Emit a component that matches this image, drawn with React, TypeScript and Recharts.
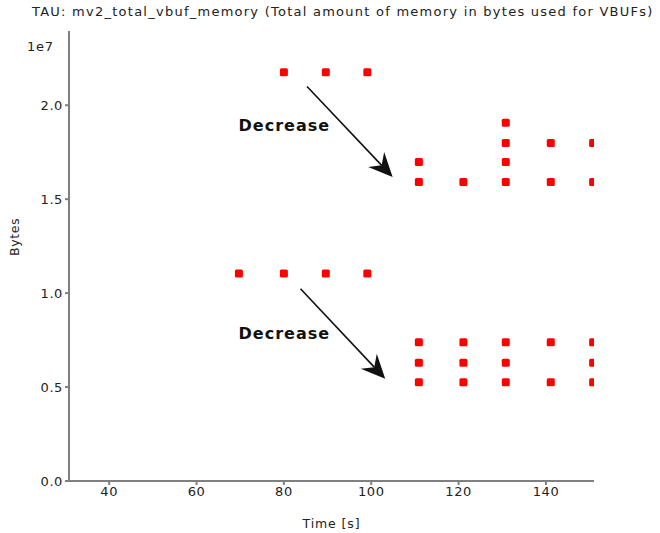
import React from 'react';
import {
  ScatterChart,
  Scatter,
  XAxis,
  YAxis,
  ReferenceLine,
  ReferenceDot,
} from 'recharts';

// Sample times [s] and memory readings [bytes]
const upperBefore = [
  [80, 21.75e6],
  [89.6, 21.75e6],
  [99.1, 21.75e6],
];
const lowerBefore = [
  [69.7, 11.05e6],
  [80, 11.05e6],
  [89.6, 11.05e6],
  [99.1, 11.05e6],
];
const upperAfter = [
  [110.9, 16.98e6],
  [110.9, 15.91e6],
  [121.1, 15.91e6],
  [130.8, 19.07e6],
  [130.8, 17.99e6],
  [130.8, 16.98e6],
  [130.8, 15.91e6],
  [141.1, 17.99e6],
  [141.1, 15.91e6],
  [150.8, 17.99e6],
  [150.8, 15.91e6],
];
const lowerAfter = [
  [110.9, 7.39e6],
  [110.9, 6.29e6],
  [110.9, 5.26e6],
  [121.1, 7.39e6],
  [121.1, 6.29e6],
  [121.1, 5.26e6],
  [130.8, 7.39e6],
  [130.8, 6.29e6],
  [130.8, 5.26e6],
  [141.1, 7.39e6],
  [141.1, 5.26e6],
  [150.8, 7.39e6],
  [150.8, 6.29e6],
  [150.8, 5.26e6],
];

const xTicks = [40, 60, 80, 100, 120, 140];
const yTicks = [0, 5e6, 1e7, 1.5e7, 2e7];

// annotation arrows: [start, end] in data units
const arrows = [
  [{ x: 85.3, y: 21.0e6 }, { x: 104.9, y: 16.18e6 }],
  [{ x: 83.8, y: 10.23e6 }, { x: 103.2, y: 5.44e6 }],
];
const notes = [
  { x: 80.1, y: 18.9e6, text: 'Decrease' },
  { x: 80.1, y: 7.83e6, text: 'Decrease' },
];

const FONT = '"DejaVu Sans", sans-serif';
const AXIS = '#808080';
const TEXT = '#222';

const points = [...upperBefore, ...lowerBefore, ...upperAfter, ...lowerAfter].map(
  ([t, v]) => ({ t, v })
);

const Square = (props: any) => {
  const { cx, cy } = props;
  if (cx == null || cy == null) return null;
  return <rect x={cx - 4} y={cy - 4} width={8} height={8} rx={1.5} fill="#ff0000" />;
};

const Arrow = (props: any) => {
  const { x1, y1, x2, y2 } = props;
  if ([x1, y1, x2, y2].some((v) => v == null || isNaN(v))) return null;
  const dx = x2 - x1;
  const dy = y2 - y1;
  const len = Math.sqrt(dx * dx + dy * dy);
  const ux = dx / len;
  const uy = dy / len;
  const px = -uy;
  const py = ux;
  const back = 24;
  const half = 11;
  const notch = 16;
  const bx = x2 - ux * back;
  const by = y2 - uy * back;
  const nx = x2 - ux * notch;
  const ny = y2 - uy * notch;
  const head = `${x2},${y2} ${bx + px * half},${by + py * half} ${nx},${ny} ${bx - px * half},${by - py * half}`;
  return (
    <g>
      <line x1={x1} y1={y1} x2={nx} y2={ny} stroke="#111" strokeWidth={1.6} />
      <polygon points={head} fill="#111" />
    </g>
  );
};

const Note = (text: string) => (props: any) => {
  const { cx, cy } = props;
  return (
    <text
      x={cx}
      y={cy}
      textAnchor="middle"
      dominantBaseline="central"
      fontFamily={FONT}
      fontWeight="bold"
      fontSize={16}
      letterSpacing={1}
      fill="#111"
    >
      {text}
    </text>
  );
};

const tickStyle = { fill: TEXT, fontSize: 13, fontFamily: FONT, letterSpacing: 0.6 };

export default function App() {
  return (
    <div style={{ position: 'relative', width: 660, height: 533, background: '#fff', fontFamily: FONT }}>
      <style>{'body{margin:0}'}</style>
      <div
        style={{
          position: 'absolute',
          left: 32,
          top: 4,
          fontSize: 13,
          letterSpacing: 1.25,
          color: TEXT,
          whiteSpace: 'nowrap',
        }}
      >
        TAU: mv2_total_vbuf_memory (Total amount of memory in bytes used for VBUFs)
      </div>
      <div style={{ position: 'absolute', left: 27, top: 39, fontSize: 13, letterSpacing: 0.8, color: TEXT }}>1e7</div>
      <ScatterChart width={660} height={533} margin={{ top: 31, right: 66, bottom: 0, left: 0 }}>
        <XAxis
          type="number"
          dataKey="t"
          domain={[30.8, 151]}
          ticks={xTicks}
          allowDataOverflow
          height={52}
          stroke={AXIS}
          strokeWidth={2}
          tickSize={4}
          tick={tickStyle}
          label={{ value: 'Time [s]', position: 'insideBottom', offset: 5, fill: TEXT, fontSize: 12.5, letterSpacing: 0.9, fontFamily: FONT }}
        />
        <XAxis xAxisId="top" type="number" orientation="top" domain={[30.8, 151]} height={0} tick={false} tickLine={false} stroke={AXIS} strokeWidth={2} />
        <YAxis
          type="number"
          dataKey="v"
          domain={[0, 2.395e7]}
          ticks={yTicks}
          allowDataOverflow
          width={69}
          stroke={AXIS}
          strokeWidth={2}
          tickSize={4}
          tickFormatter={(v: number) => (v / 1e7).toFixed(1)}
          tick={tickStyle}
          label={{ value: 'Bytes', angle: -90, position: 'insideLeft', offset: 15, fill: TEXT, fontSize: 12.5, letterSpacing: 0.6, fontFamily: FONT }}
        />
        <YAxis yAxisId="right" type="number" orientation="right" domain={[0, 2.395e7]} width={0} tick={false} tickLine={false} stroke={AXIS} strokeWidth={2} />
        <Scatter
          name="mv2_total_vbuf_memory"
          data={points}
          shape={Square}
          isAnimationActive={false}
        />
        {arrows.map((seg, i) => (
          <ReferenceLine key={`a${i}`} segment={seg} shape={Arrow} ifOverflow="visible" />
        ))}
        {notes.map((n, i) => (
          <ReferenceDot key={`n${i}`} x={n.x} y={n.y} r={0} shape={Note(n.text)} ifOverflow="visible" />
        ))}
      </ScatterChart>
    </div>
  );
}
